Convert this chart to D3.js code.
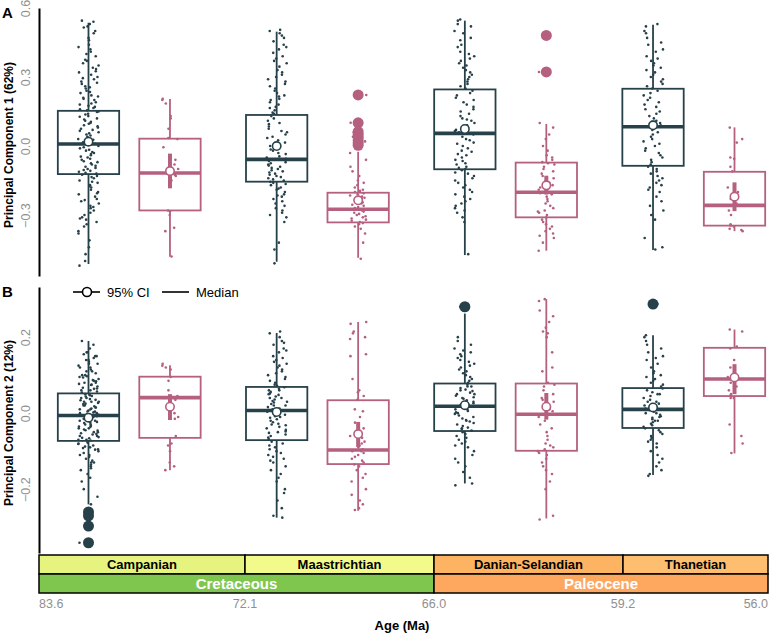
<!DOCTYPE html>
<html>
<head>
<meta charset="utf-8">
<script src="https://cdn.jsdelivr.net/npm/d3@7"></script>
<style>
body { margin: 0; background: #fff; }
text { font-family: Arial, "Liberation Sans", sans-serif; }
</style>
</head>
<body>
<svg id="chart" width="771" height="634"></svg>
<script>
// stages, series
const stageNames = ["Campanian", "Maastrichtian", "Danian-Selandian", "Thanetian"]
const stageStart = [83.6, 72.1, 66.0, 59.2]
const stageEnd = [72.1, 66.0, 59.2, 56.0]
const epochNames = ["Cretaceous", "Paleocene"]
const epochStart = [83.6, 66.0]
const epochEnd = [66.0, 56.0]
const ageTicks = [83.6, 72.1, 66.0, 59.2, 56.0]
const seriesNames = ["dark", "pink"]

// box stats, order: Camp dark, Camp pink, Maas dark, Maas pink, Dan dark, Dan pink, Than dark, Than pink
const pc1Q1 = [-0.122, -0.28, -0.155, -0.332, -0.101, -0.31, -0.086, -0.346]
const pc1Med = [0.009, -0.117, -0.058, -0.275, 0.055, -0.201, 0.084, -0.258]
const pc1Q3 = [0.153, 0.032, 0.135, -0.203, 0.246, -0.072, 0.249, -0.112]
const pc1Lo = [-0.513, -0.481, -0.503, -0.486, -0.474, -0.455, -0.452, -0.37]
const pc1Hi = [0.536, 0.204, 0.497, -0.025, 0.545, 0.096, 0.527, 0.081]
const pc1Mean = [0.019, -0.109, 0.0, -0.236, 0.074, -0.171, 0.09, -0.22]
const pc1CiLo = [0.004, -0.184, -0.014, -0.255, 0.058, -0.211, 0.07, -0.283]
const pc1CiHi = [0.034, -0.033, 0.014, -0.217, 0.09, -0.129, 0.11, -0.158]
const pc1Outliers = [[], [], [], [0.222, 0.101, 0.062, 0.05, 0.038, 0.026, 0.014, 0.003], [], [0.481, 0.322], [], []]

const pc2Q1 = [-0.073, -0.065, -0.071, -0.134, -0.047, -0.099, -0.039, 0.045]
const pc2Med = [-0.006, 0.041, 0.007, -0.097, 0.018, -0.003, 0.01, 0.09]
const pc2Q3 = [0.052, 0.096, 0.069, 0.034, 0.078, 0.078, 0.066, 0.172]
const pc2Lo = [-0.24, -0.15, -0.275, -0.257, -0.185, -0.277, -0.163, -0.106]
const pc2Hi = [0.19, 0.126, 0.211, 0.24, 0.262, 0.3, 0.205, 0.22]
const pc2Mean = [-0.012, 0.017, 0.003, -0.055, 0.021, 0.017, 0.015, 0.094]
const pc2CiLo = [-0.02, -0.018, -0.006, -0.089, 0.012, -0.017, 0.004, 0.05]
const pc2CiHi = [-0.004, 0.05, 0.012, -0.023, 0.03, 0.053, 0.026, 0.129]
const pc2Outliers = [[-0.26, -0.27, -0.297, -0.341], [], [], [], [0.28], [], [0.287], []]

// specimen values (jittered points)
const pc1CampDark = [0.545,0.54,0.53,0.52,0.515,0.50,0.49,0.47,0.46,0.44,0.43,0.42,0.41,0.40,0.39,0.375,0.37,0.36,0.35,0.34,0.335,0.325,0.32,0.31,0.30,0.295,0.29,0.28,0.275,0.27,0.26,0.255,0.25,0.24,0.235,0.23,0.22,0.215,0.21,0.205,0.20,0.19,0.185,0.18,0.175,0.17,0.165,0.16,0.155,0.15,0.148,0.14,0.137,0.13,0.127,0.12,0.115,0.11,0.105,0.10,0.097,0.09,0.086,0.08,0.075,0.07,0.066,0.06,0.055,0.05,0.046,0.04,0.036,0.03,0.027,0.02,0.016,0.01,0.0,-0.005,-0.01,-0.016,-0.02,-0.026,-0.03,-0.035,-0.04,-0.046,-0.05,-0.055,-0.06,-0.066,-0.07,-0.075,-0.08,-0.086,-0.09,-0.095,-0.10,-0.104,-0.108,-0.112,-0.116,-0.12,-0.125,-0.13,-0.135,-0.14,-0.15,-0.155,-0.16,-0.17,-0.175,-0.18,-0.19,-0.20,-0.205,-0.21,-0.22,-0.23,-0.235,-0.24,-0.25,-0.26,-0.265,-0.27,-0.28,-0.29,-0.30,-0.31,-0.315,-0.32,-0.33,-0.34,-0.35,-0.37,-0.38,-0.41,-0.44,-0.47,-0.50,-0.52]
const pc1CampPink = [0.205,0.2,0.185,0.13,0.12,0.075,0.035,0.03,-0.005,-0.06,-0.08,-0.1,-0.125,-0.13,-0.15,-0.28,-0.285,-0.30,-0.355,-0.37,-0.48]
const pc1MaasDark = [0.505,0.50,0.49,0.48,0.47,0.455,0.44,0.43,0.42,0.405,0.39,0.38,0.37,0.36,0.345,0.33,0.32,0.31,0.30,0.29,0.28,0.27,0.26,0.25,0.24,0.23,0.22,0.215,0.205,0.2,0.19,0.18,0.17,0.165,0.155,0.145,0.14,0.13,0.12,0.11,0.10,0.095,0.085,0.075,0.065,0.06,0.05,0.04,0.035,0.025,0.015,0.01,0.0,-0.005,-0.015,-0.02,-0.03,-0.035,-0.045,-0.05,-0.055,-0.06,-0.065,-0.07,-0.075,-0.08,-0.085,-0.09,-0.095,-0.10,-0.105,-0.11,-0.115,-0.12,-0.125,-0.13,-0.135,-0.14,-0.145,-0.15,-0.155,-0.16,-0.165,-0.17,-0.18,-0.185,-0.19,-0.2,-0.21,-0.215,-0.22,-0.23,-0.24,-0.25,-0.26,-0.27,-0.28,-0.29,-0.30,-0.31,-0.33,-0.42,-0.45,-0.51]
const pc1MaasPink = [0.222,0.101,0.06,0.04,0.02,-0.03,-0.06,-0.09,-0.11,-0.13,-0.15,-0.16,-0.17,-0.18,-0.19,-0.195,-0.2,-0.205,-0.21,-0.215,-0.22,-0.225,-0.23,-0.235,-0.24,-0.245,-0.25,-0.255,-0.26,-0.265,-0.27,-0.275,-0.28,-0.285,-0.29,-0.295,-0.30,-0.305,-0.31,-0.315,-0.32,-0.325,-0.33,-0.335,-0.34,-0.35,-0.36,-0.38,-0.42,-0.49]
const pc1DanDark = [0.55,0.545,0.53,0.52,0.50,0.49,0.47,0.46,0.44,0.43,0.41,0.40,0.39,0.38,0.37,0.36,0.35,0.34,0.33,0.32,0.31,0.30,0.29,0.28,0.27,0.26,0.25,0.24,0.23,0.22,0.21,0.2,0.19,0.18,0.17,0.16,0.15,0.14,0.13,0.12,0.115,0.11,0.1,0.09,0.085,0.08,0.07,0.065,0.06,0.05,0.04,0.03,0.025,0.015,0.01,0.0,-0.01,-0.02,-0.025,-0.035,-0.04,-0.05,-0.06,-0.065,-0.075,-0.08,-0.09,-0.095,-0.1,-0.105,-0.115,-0.12,-0.13,-0.14,-0.15,-0.16,-0.17,-0.18,-0.19,-0.2,-0.21,-0.22,-0.23,-0.24,-0.25,-0.26,-0.27,-0.28,-0.29,-0.31,-0.33,-0.47]
const pc1DanPink = [0.481,0.322,0.1,0.08,0.05,0.03,0.0,-0.02,-0.04,-0.05,-0.06,-0.07,-0.075,-0.08,-0.09,-0.1,-0.11,-0.12,-0.13,-0.14,-0.15,-0.16,-0.17,-0.18,-0.19,-0.2,-0.205,-0.21,-0.22,-0.23,-0.24,-0.25,-0.26,-0.27,-0.28,-0.285,-0.29,-0.3,-0.31,-0.32,-0.33,-0.34,-0.35,-0.36,-0.37,-0.38,-0.39,-0.4,-0.42,-0.455]
const pc1ThanDark = [0.53,0.52,0.5,0.49,0.47,0.45,0.44,0.42,0.41,0.39,0.38,0.37,0.36,0.35,0.34,0.33,0.32,0.31,0.3,0.29,0.28,0.27,0.26,0.25,0.24,0.23,0.22,0.21,0.2,0.19,0.18,0.17,0.16,0.15,0.14,0.13,0.12,0.11,0.1,0.09,0.08,0.07,0.06,0.05,0.04,0.03,0.02,0.01,0.0,-0.01,-0.02,-0.03,-0.04,-0.05,-0.06,-0.07,-0.08,-0.09,-0.1,-0.11,-0.12,-0.13,-0.14,-0.15,-0.16,-0.17,-0.18,-0.19,-0.2,-0.22,-0.24,-0.26,-0.28,-0.3,-0.32,-0.4,-0.44,-0.45]
const pc1ThanPink = [0.08,0.03,0.015,-0.05,-0.055,-0.09,-0.11,-0.18,-0.2,-0.23,-0.25,-0.28,-0.3,-0.34,-0.345,-0.35,-0.36,-0.365,-0.37]

const pc2CampDark = [0.19,0.18,0.17,0.16,0.155,0.15,0.145,0.14,0.135,0.13,0.125,0.12,0.115,0.11,0.105,0.1,0.097,0.094,0.09,0.087,0.084,0.08,0.077,0.074,0.07,0.067,0.064,0.06,0.057,0.054,0.05,0.047,0.044,0.04,0.037,0.034,0.03,0.027,0.024,0.02,0.018,0.015,0.012,0.01,0.007,0.004,0.002,0.0,-0.002,-0.004,-0.008,-0.011,-0.014,-0.017,-0.02,-0.023,-0.026,-0.03,-0.033,-0.036,-0.04,-0.043,-0.046,-0.05,-0.053,-0.056,-0.06,-0.063,-0.066,-0.07,-0.072,-0.075,-0.078,-0.081,-0.085,-0.088,-0.092,-0.096,-0.1,-0.105,-0.11,-0.115,-0.12,-0.125,-0.13,-0.135,-0.14,-0.15,-0.16,-0.17,-0.18,-0.2,-0.22,-0.24,0.045,0.035,0.025,0.015,0.005,-0.015,-0.025,-0.035,-0.045,-0.055,-0.065,0.065,0.075,0.085,0.095,0.11,0.13,-0.09,-0.11,-0.13,-0.145,-0.095,-0.06,-0.04,-0.02,0.0,0.02,0.04,0.03,0.01,-0.01,-0.03,-0.05,0.06,0.08,0.1,0.12,0.14,0.15,0.16,0.03,-0.07,-0.08,0.05,-0.26,-0.27,-0.297,-0.341]
const pc2CampPink = [0.13,0.125,0.12,0.115,0.095,0.085,0.06,0.045,0.04,0.035,0.0,-0.01,-0.015,-0.06,-0.08,-0.085,-0.1,-0.13,-0.14,-0.15]
const pc2MaasDark = [0.215,0.21,0.2,0.19,0.185,0.18,0.17,0.165,0.16,0.15,0.145,0.14,0.135,0.13,0.125,0.12,0.115,0.11,0.105,0.1,0.095,0.09,0.085,0.08,0.075,0.072,0.068,0.064,0.06,0.056,0.052,0.048,0.044,0.04,0.036,0.032,0.028,0.024,0.02,0.016,0.012,0.008,0.06,0.05,0.04,0.03,0.02,0.01,0.004,0.0,-0.004,-0.008,-0.012,-0.016,-0.02,-0.024,-0.028,-0.032,-0.036,-0.04,-0.044,-0.048,-0.052,-0.056,-0.06,-0.064,-0.068,-0.01,-0.03,-0.05,-0.075,-0.08,-0.085,-0.09,-0.095,-0.1,-0.105,-0.11,-0.115,-0.12,-0.125,-0.13,-0.14,-0.15,-0.16,-0.17,-0.18,-0.2,-0.21,-0.23,-0.25,-0.27,-0.275]
const pc2MaasPink = [0.24,0.235,0.215,0.21,0.2,0.195,0.155,0.15,0.09,0.06,0.055,0.045,0.035,0.01,0.005,-0.01,-0.025,-0.04,-0.05,-0.06,-0.065,-0.075,-0.08,-0.085,-0.09,-0.095,-0.1,-0.1,-0.105,-0.11,-0.115,-0.12,-0.125,-0.13,-0.135,-0.14,-0.15,-0.16,-0.17,-0.18,-0.2,-0.215,-0.23,-0.24,-0.25,-0.255]
const pc2DanDark = [0.28,0.2,0.19,0.18,0.17,0.165,0.16,0.155,0.15,0.145,0.14,0.135,0.13,0.125,0.12,0.115,0.11,0.105,0.1,0.095,0.09,0.085,0.08,0.075,0.07,0.066,0.062,0.058,0.054,0.05,0.046,0.042,0.038,0.034,0.03,0.026,0.022,0.02,0.06,0.04,0.025,0.07,0.05,0.015,0.01,0.006,0.002,-0.002,-0.006,-0.01,-0.014,-0.018,-0.022,-0.026,-0.03,-0.034,-0.038,-0.042,-0.046,0.0,-0.02,-0.04,0.01,-0.05,-0.055,-0.06,-0.065,-0.07,-0.075,-0.08,-0.085,-0.09,-0.1,-0.11,-0.12,-0.13,-0.14,-0.155,-0.17,-0.185,-0.19]
const pc2DanPink = [0.3,0.295,0.27,0.255,0.24,0.225,0.215,0.21,0.2,0.16,0.12,0.11,0.08,0.075,0.07,0.06,0.05,0.04,0.035,0.03,0.02,0.01,0.005,-0.005,-0.01,-0.02,-0.03,-0.04,-0.05,-0.06,-0.07,-0.08,-0.085,-0.09,-0.095,-0.1,-0.105,-0.11,-0.12,-0.13,-0.14,-0.15,-0.16,-0.18,-0.2,-0.27,-0.28]
const pc2ThanDark = [0.287,0.205,0.2,0.19,0.18,0.17,0.16,0.15,0.145,0.14,0.13,0.12,0.11,0.105,0.1,0.095,0.09,0.085,0.08,0.075,0.07,0.065,0.06,0.055,0.05,0.045,0.04,0.035,0.03,0.025,0.02,0.015,0.012,0.05,0.03,0.008,0.004,0.0,-0.004,-0.008,-0.012,-0.016,-0.02,-0.024,-0.028,-0.032,-0.036,-0.01,-0.02,0.0,-0.04,-0.045,-0.05,-0.055,-0.06,-0.065,-0.07,-0.075,-0.08,-0.09,-0.1,-0.11,-0.12,-0.13,-0.14,-0.15,-0.16,-0.165]
const pc2ThanPink = [0.22,0.215,0.175,0.17,0.14,0.12,0.1,0.095,0.09,0.08,0.07,0.06,0.05,0.045,0.04,0.04,-0.03,-0.06,-0.08,-0.105]

const seriesColors = ["#27414a", "#b5607f"]
const stageColors = ["#e6f47f", "#f2fa8c", "#fdb462", "#fdbf6f"]
const epochColors = ["#7fc64e", "#fda75f"]

const svg = d3.select("#chart")

// layout
const left = 39, right = 768
const x = d3.scaleLinear().domain([0.5205, 4.3945]).range([left, right])
const dodge = 0.2165
const halfBox = 0.163
const yA = d3.scaleLinear().domain([-0.565, 0.6]).range([276, 8])
const yB = d3.scaleLinear().domain([-0.368, 0.332]).range([553, 287])

// scatter offset for the jitter (layout only, deterministic)
const jit = i => {
  const v = Math.sin(i * 12.9898 + 78.233) * 43758.5453
  return (v - Math.floor(v) - 0.5) * 2
}

function drawPanel(y, stats, points, outliers, ticks, title, letter, letterY) {
  const g = svg.append("g")

  // y axis
  const ax = g.append("g")
    .attr("transform", `translate(${left},0)`)
    .call(d3.axisLeft(y).tickValues(ticks).tickSize(0).tickSizeOuter(0).tickFormat(d3.format(".1f")))
  ax.select(".domain").attr("stroke", "#000").attr("stroke-width", 2)
  ax.selectAll(".tick text")
    .attr("x", null).attr("dy", null)
    .attr("transform", "translate(-9,0) rotate(-90)")
    .attr("text-anchor", "middle")
    .attr("fill", "#8f8f8f")
    .style("font-size", "12.5px")
    .style("font-family", "Arial, 'Liberation Sans', sans-serif")

  g.append("text")
    .attr("transform", `translate(12.5,${(y.range()[0] + y.range()[1]) / 2 + 3}) rotate(-90)`)
    .attr("text-anchor", "middle")
    .style("font-size", "12px").style("font-weight", "bold")
    .text(title)

  g.append("text").attr("x", 2).attr("y", letterY)
    .style("font-size", "15px").style("font-weight", "bold").text(letter)

  for (let k = 0; k < 8; k++) {
    const s = Math.floor(k / 2), ser = k % 2
    const pos = s + 1 + (ser ? dodge : -dodge)
    const col = seriesColors[ser]
    const cx = x(pos)
    const bg = g.append("g")

    // whiskers
    bg.append("line").attr("x1", cx).attr("x2", cx)
      .attr("y1", y(stats.hi[k])).attr("y2", y(stats.q3[k]))
      .attr("stroke", col).attr("stroke-width", 1.8)
    bg.append("line").attr("x1", cx).attr("x2", cx)
      .attr("y1", y(stats.q1[k])).attr("y2", y(stats.lo[k]))
      .attr("stroke", col).attr("stroke-width", 1.8)
    // box
    bg.append("rect")
      .attr("x", x(pos - halfBox)).attr("width", x(pos + halfBox) - x(pos - halfBox))
      .attr("y", y(stats.q3[k])).attr("height", y(stats.q1[k]) - y(stats.q3[k]))
      .attr("fill", "none").attr("stroke", col).attr("stroke-width", 1.8)
    bg.append("line")
      .attr("x1", x(pos - halfBox)).attr("x2", x(pos + halfBox))
      .attr("y1", y(stats.med[k])).attr("y2", y(stats.med[k]))
      .attr("stroke", col).attr("stroke-width", 3.6)

    // outliers
    bg.selectAll("circle.out").data(outliers[k]).enter().append("circle")
      .attr("class", "out")
      .attr("cx", cx).attr("cy", d => y(d)).attr("r", 5.5)
      .attr("fill", col)

    // jittered points
    const jw = ser ? 0.045 : 0.055
    bg.selectAll("circle.pt").data(points[k]).enter().append("circle")
      .attr("class", "pt")
      .attr("cx", (d, i) => x(pos + jit(i + k * 211) * jw)).attr("cy", d => y(d)).attr("r", 1.3)
      .attr("fill", col)

    // 95% CI and mean
    bg.append("line").attr("x1", cx).attr("x2", cx)
      .attr("y1", y(stats.ciLo[k])).attr("y2", y(stats.ciHi[k]))
      .attr("stroke", col).attr("stroke-width", 4)
    bg.append("circle").attr("cx", cx).attr("cy", y(stats.mean[k])).attr("r", 4.2)
      .attr("fill", "#fff").attr("stroke", col).attr("stroke-width", 1.6)
  }
}

drawPanel(yA,
  { q1: pc1Q1, med: pc1Med, q3: pc1Q3, lo: pc1Lo, hi: pc1Hi, mean: pc1Mean, ciLo: pc1CiLo, ciHi: pc1CiHi },
  [pc1CampDark, pc1CampPink, pc1MaasDark, pc1MaasPink, pc1DanDark, pc1DanPink, pc1ThanDark, pc1ThanPink],
  pc1Outliers, [0.6, 0.3, 0.0, -0.3], "Principal Component 1 (62%)", "A", 18)

drawPanel(yB,
  { q1: pc2Q1, med: pc2Med, q3: pc2Q3, lo: pc2Lo, hi: pc2Hi, mean: pc2Mean, ciLo: pc2CiLo, ciHi: pc2CiHi },
  [pc2CampDark, pc2CampPink, pc2MaasDark, pc2MaasPink, pc2DanDark, pc2DanPink, pc2ThanDark, pc2ThanPink],
  pc2Outliers, [0.2, 0.0, -0.2], "Principal Component 2 (12%)", "B", 297)

// legend
const leg = svg.append("g").attr("transform", "translate(0,292)")
leg.append("line").attr("x1", 73).attr("x2", 100).attr("stroke", "#000").attr("stroke-width", 1.6)
leg.append("circle").attr("cx", 87).attr("r", 4.5).attr("fill", "#fff").attr("stroke", "#000").attr("stroke-width", 1.6)
leg.append("text").attr("x", 107).attr("y", 4.5).style("font-size", "13px").text("95% CI")
leg.append("line").attr("x1", 162).attr("x2", 189).attr("stroke", "#000").attr("stroke-width", 1.6)
leg.append("text").attr("x", 196).attr("y", 4.5).style("font-size", "13px").text("Median")

// time scale
const age = d3.scaleLinear().domain(ageTicks).range([39, 245, 434, 623, 768])
const ts = svg.append("g")
const stageTop = 555, rowH = 19

ts.selectAll("rect.stage").data(stageNames).enter().append("rect")
  .attr("class", "stage")
  .attr("x", (d, i) => age(stageStart[i])).attr("width", (d, i) => age(stageEnd[i]) - age(stageStart[i]))
  .attr("y", stageTop).attr("height", rowH)
  .attr("fill", (d, i) => stageColors[i]).attr("stroke", "#000").attr("stroke-width", 1.5)
ts.selectAll("text.stage").data(stageNames).enter().append("text")
  .attr("class", "stage")
  .attr("x", (d, i) => (age(stageStart[i]) + age(stageEnd[i])) / 2)
  .attr("y", stageTop + rowH / 2 + 4.5)
  .attr("text-anchor", "middle")
  .style("font-size", "13px").style("font-weight", "bold")
  .text(d => d)

ts.selectAll("rect.epoch").data(epochNames).enter().append("rect")
  .attr("class", "epoch")
  .attr("x", (d, i) => age(epochStart[i])).attr("width", (d, i) => age(epochEnd[i]) - age(epochStart[i]))
  .attr("y", stageTop + rowH).attr("height", rowH)
  .attr("fill", (d, i) => epochColors[i]).attr("stroke", "#000").attr("stroke-width", 1.5)
ts.selectAll("text.epoch").data(epochNames).enter().append("text")
  .attr("class", "epoch")
  .attr("x", (d, i) => (age(epochStart[i]) + age(epochEnd[i])) / 2)
  .attr("y", stageTop + rowH * 1.5 + 5.5)
  .attr("text-anchor", "middle").attr("fill", "#fff")
  .style("font-size", "15px").style("font-weight", "bold")
  .text(d => d)

// age ticks
ts.selectAll("text.age").data(ageTicks).enter().append("text")
  .attr("class", "age")
  .attr("x", d => age(d)).attr("y", 608)
  .attr("text-anchor", (d, i) => i === 0 ? "start" : (i === ageTicks.length - 1 ? "end" : "middle"))
  .attr("fill", "#8f8f8f")
  .style("font-size", "12.5px")
  .text(d => d3.format(".1f")(d))

svg.append("text").attr("x", 402).attr("y", 630)
  .attr("text-anchor", "middle")
  .style("font-size", "13px").style("font-weight", "bold")
  .text("Age (Ma)")
</script>
</body>
</html>
